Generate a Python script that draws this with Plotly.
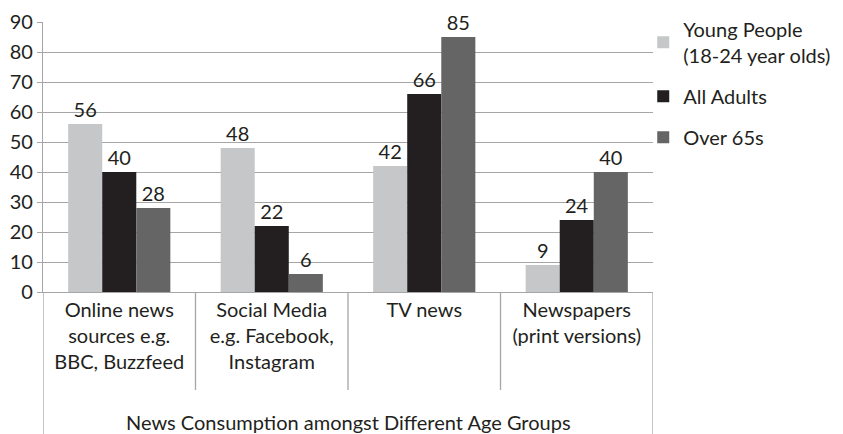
import plotly.graph_objects as go

# categories and values
categories = ['Online news<br>sources e.g.<br>BBC, Buzzfeed',
              'Social Media<br>e.g. Facebook,<br>Instagram',
              'TV news',
              'Newspapers<br>(print versions)']
young = [56, 48, 42, 9]
adults = [40, 22, 66, 24]
over65 = [28, 6, 85, 40]
series_names = ['Young People<br>(18-24 year olds)', 'All Adults', 'Over 65s']
colors = ['#c6c7c9', '#231f20', '#656565']
y_ticks = list(range(0, 100, 10))
x_title = 'News Consumption amongst Different Age Groups'

FONT = 'Lato'
FS = 20
TXT = '#231f20'
LINE = '#a6a6a6'

fig = go.Figure()
for i, (name, vals) in enumerate(zip(series_names, [young, adults, over65])):
    fig.add_trace(go.Bar(
        x=categories, y=vals, name=name, legendgroup=str(i),
        marker=dict(color=colors[i], line=dict(width=0)),
        text=[str(v) for v in vals], textposition='outside',
        textfont=dict(family=FONT, size=FS, color=TXT),
        cliponaxis=False,
    ))

# separators between category boxes (axis boundaries)
for b in [0.5, 1.5, 2.5]:
    fig.add_shape(type='line', xref='x', yref='paper', x0=b, x1=b, y0=0, y1=-0.363,
                  line=dict(color=LINE, width=1.3))
for b in [-0.5, 3.5]:
    fig.add_shape(type='line', xref='x', yref='paper', x0=b, x1=b, y0=0, y1=-0.53,
                  line=dict(color=LINE, width=1.3))

fig.add_annotation(text=x_title, xref='paper', yref='paper', x=0.5, y=-0.481,
                   showarrow=False, yanchor='middle',
                   font=dict(family=FONT, size=FS, color=TXT))

fig.update_layout(
    template='none',
    width=843, height=434,
    margin=dict(l=43, r=190, t=22, b=142, autoexpand=False),
    paper_bgcolor='white', plot_bgcolor='white',
    barmode='group', bargap=0.33, bargroupgap=0,
    font=dict(family=FONT, size=FS, color=TXT),
    legend=dict(x=0.984, y=1.045, xanchor='left', yanchor='top',
                traceorder='grouped', tracegroupgap=12,
                font=dict(family=FONT, size=FS, color=TXT),
                itemwidth=30, bgcolor='rgba(0,0,0,0)'),
    xaxis=dict(showline=True, linecolor=LINE, linewidth=1.3, ticks='',
               showgrid=False, automargin=False,
               tickfont=dict(family=FONT, size=FS, color=TXT),
               range=[-0.5, 3.5]),
    yaxis=dict(range=[0, 90], tickvals=y_ticks, showgrid=True, gridcolor=LINE,
               gridwidth=1.3, showline=True, linecolor=LINE, linewidth=1.3,
               ticks='outside', ticklen=5, tickcolor=LINE, zeroline=False,
               automargin=False,
               tickfont=dict(family=FONT, size=FS, color=TXT)),
)

# page body margin would shift the figure by 8px
fig.write_html('out.html', config={'displayModeBar': False},
               post_script="document.body.style.margin='0';")
